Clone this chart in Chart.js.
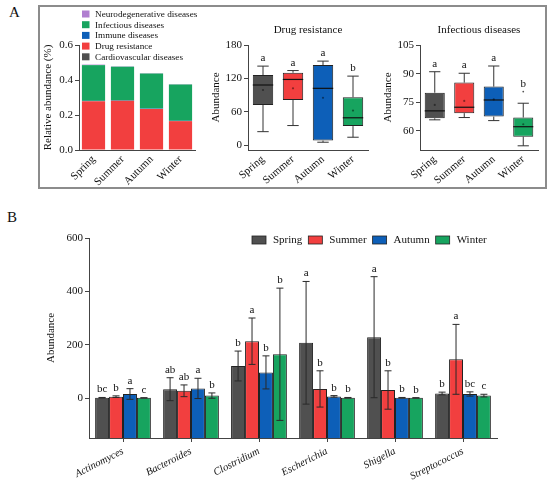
<!DOCTYPE html>
<html>
<head>
<meta charset="utf-8">
<script src="https://cdn.jsdelivr.net/npm/chart.js@4.4.0/dist/chart.umd.min.js"></script>
<style>
    body { margin: 0; background: #fff; }
    #wrap { position: relative; width: 550px; height: 493px; background: #fff; overflow: hidden; font-family: 'Liberation Serif', 'DejaVu Serif', serif; }
    #wrap canvas { position: absolute; }
    .frame { position: absolute; left: 38px; top: 5px; width: 505px; height: 180px; border: 2px solid #8c8c8c; }
    .lab { position: absolute; font-size: 15px; color: #111; }
</style>
</head>
<body>
<div id="wrap">
    <div class="frame"></div>
    <div class="lab" style="left:9px; top:4px;">A</div>
    <div class="lab" style="left:7px; top:209px;">B</div>
    <canvas id="relChart" width="170" height="180" style="left:40px; top:6px;"></canvas>
    <canvas id="drugChart" width="172" height="180" style="left:200px; top:6px;"></canvas>
    <canvas id="infChart" width="172" height="180" style="left:372px; top:6px;"></canvas>
    <canvas id="genusChart" width="550" height="268" style="left:0px; top:225px;"></canvas>
</div>

<script>
// ---- shared ----
const seasons = ["Spring", "Summer", "Autumn", "Winter"];
const seasonColors = ["#505050", "#f23f3f", "#0d5fb8", "#17a45f"];

// ---- A: relative abundance (%) stacked, bottom to top ----
const cardioAbund = [0.003, 0.003, 0.003, 0.003];
const drugAbund = [0.276, 0.278, 0.232, 0.162];
const immuneAbund = [0.002, 0.002, 0.002, 0.002];
const infectAbund = [0.204, 0.193, 0.200, 0.208];
const neuroAbund = [0.003, 0.002, 0.002, 0.002];
const relTicks = [0, 0.2, 0.4, 0.6];

// ---- A: Drug resistance boxes [min, q1, median, q3, max] ----
const drugMin = [24, 35, 5, 14];
const drugQ1 = [72, 81, 8, 34];
const drugMedian = [108, 118, 102, 49];
const drugQ3 = [126, 130, 144, 86];
const drugMax = [142, 134, 151, 124];
const drugMean = [99, 102, 85, 62];
const drugLetters = ["a", "a", "a", "b"];
const drugTicks = [0, 60, 120, 180];

// ---- A: Infectious diseases boxes ----
const infMin = [65.8, 67, 65.4, 52.2];
const infQ1 = [66.6, 69.3, 67.5, 57];
const infMedian = [70.5, 72.4, 76.2, 62.2];
const infQ3 = [80, 85.3, 83.2, 67];
const infMax = [91, 90.2, 94, 74.5];
const infMean = [73.6, 75.7, 76.5, 63.5];
const infOutliers = [null, null, null, 80.6];
const infLetters = ["a", "a", "a", "b"];
const infTicks = [60, 75, 90, 105];

// ---- B: genus abundance, mean and sd ----
const genera = ["Actinomyces", "Bacteroides", "Clostridium", "Escherichia", "Shigella", "Streptococcus"];
const springMean = [1, 33, 120, 207, 228, 17];
const springSd = [1, 43, 56, 230, 227, 5];
const summerMean = [5, 27, 213, 34, 30, 145];
const summerSd = [3, 22, 87, 68, 72, 131];
const autumnMean = [15, 36, 96, 6, 1, 15];
const autumnSd = [20, 38, 62, 3, 1, 8];
const winterMean = [0.5, 9, 164, 1, 0.5, 9];
const winterSd = [0.3, 10, 248, 1, 0.5, 5];
const springLetters = ["bc", "ab", "b", "a", "a", "b"];
const summerLetters = ["b", "ab", "a", "b", "b", "a"];
const autumnLetters = ["a", "a", "b", "b", "b", "bc"];
const winterLetters = ["c", "b", "b", "b", "b", "c"];
const genusTicks = [0, 200, 400, 600];
const genusMin = -150;

const serif = "'Liberation Serif', 'DejaVu Serif', serif";
Chart.defaults.font.family = serif;
Chart.defaults.color = "#111";
const axisColor = "#444";

const baseOptions = {
    responsive: false,
    animation: false,
    events: [],
    plugins: { legend: { display: false }, tooltip: { enabled: false } },
};

// draw the small legend of panel A (top item = top of stack)
const relLegend = {
    id: "relLegend",
    afterDraw(chart) {
        const ctx = chart.ctx;
        const items = chart.data.datasets.slice().reverse();
        ctx.save();
        ctx.font = "9.2px " + serif;
        ctx.textBaseline = "middle";
        items.forEach((ds, i) => {
            const y = 8 + i * 10.7;
            ctx.fillStyle = ds.backgroundColor;
            ctx.fillRect(42, y - 3.5, 7.5, 7);
            ctx.fillStyle = "#111";
            ctx.fillText(ds.label, 55, y + 0.5);
        });
        ctx.restore();
    },
};

// whiskers, median, mean, outliers, letters and title for the box panels
const boxExtras = {
    id: "boxExtras",
    afterDatasetsDraw(chart, args, opts) {
        const ctx = chart.ctx;
        const y = chart.scales.y;
        const meta = chart.getDatasetMeta(0);
        ctx.save();
        meta.data.forEach((bar, i) => {
            const cx = bar.x, half = bar.width / 2, cap = bar.width * 0.28;
            const pMin = y.getPixelForValue(opts.min[i]);
            const pQ1 = y.getPixelForValue(opts.q1[i]);
            const pQ3 = y.getPixelForValue(opts.q3[i]);
            const pMax = y.getPixelForValue(opts.max[i]);
            const pMed = y.getPixelForValue(opts.median[i]);
            ctx.strokeStyle = "#333";
            ctx.lineWidth = 1;
            ctx.beginPath();
            ctx.moveTo(cx, pQ1); ctx.lineTo(cx, pMin);
            ctx.moveTo(cx - cap, pMin); ctx.lineTo(cx + cap, pMin);
            ctx.moveTo(cx, pQ3); ctx.lineTo(cx, pMax);
            ctx.moveTo(cx - cap, pMax); ctx.lineTo(cx + cap, pMax);
            ctx.stroke();
            ctx.strokeStyle = "#111";
            ctx.lineWidth = 1.2;
            ctx.beginPath();
            ctx.moveTo(cx - half, pMed); ctx.lineTo(cx + half, pMed);
            ctx.stroke();
            ctx.fillStyle = "rgba(0,0,0,0.45)";
            ctx.beginPath();
            ctx.arc(cx, y.getPixelForValue(opts.mean[i]), 1.1, 0, Math.PI * 2);
            ctx.fill();
            let top = pMax;
            if (opts.outliers && opts.outliers[i] != null) {
                const pOut = y.getPixelForValue(opts.outliers[i]);
                ctx.fillStyle = "#555";
                ctx.beginPath();
                ctx.arc(cx, pOut, 0.9, 0, Math.PI * 2);
                ctx.fill();
                top = pOut;
            }
            ctx.fillStyle = "#111";
            ctx.font = "11px " + serif;
            ctx.textAlign = "center";
            ctx.textBaseline = "alphabetic";
            ctx.fillText(opts.letters[i], cx, top - 5);
        });
        const area = chart.chartArea;
        ctx.font = "11px " + serif;
        ctx.textAlign = "center";
        ctx.textBaseline = "middle";
        ctx.fillStyle = "#111";
        ctx.fillText(opts.title, (area.left + area.right) / 2, 24);
        ctx.restore();
    },
};

// error bars and letters for panel B, plus its legend
const genusExtras = {
    id: "genusExtras",
    afterDatasetsDraw(chart) {
        const ctx = chart.ctx;
        const y = chart.scales.y;
        ctx.save();
        chart.data.datasets.forEach((ds, di) => {
            const meta = chart.getDatasetMeta(di);
            meta.data.forEach((bar, i) => {
                const m = ds.data[i], e = ds.sd[i];
                const top = y.getPixelForValue(m + e);
                const bot = y.getPixelForValue(m - e);
                ctx.strokeStyle = "#2a2a2a";
                ctx.lineWidth = 1;
                ctx.beginPath();
                ctx.moveTo(bar.x, top); ctx.lineTo(bar.x, bot);
                ctx.moveTo(bar.x - 3.5, top); ctx.lineTo(bar.x + 3.5, top);
                ctx.moveTo(bar.x - 3.5, bot); ctx.lineTo(bar.x + 3.5, bot);
                ctx.stroke();
                ctx.fillStyle = "#111";
                ctx.font = "11px " + serif;
                ctx.textAlign = "center";
                ctx.textBaseline = "alphabetic";
                ctx.fillText(ds.letters[i], bar.x, Math.min(top, y.getPixelForValue(m)) - 5);
            });
        });
        // legend
        let x = 252;
        const ly = 15;
        ctx.font = "11px " + serif;
        ctx.textAlign = "left";
        ctx.textBaseline = "middle";
        chart.data.datasets.forEach(ds => {
            ctx.fillStyle = ds.backgroundColor;
            ctx.fillRect(x, ly - 4, 14, 8);
            ctx.strokeStyle = "#222";
            ctx.lineWidth = 0.8;
            ctx.strokeRect(x, ly - 4, 14, 8);
            x += 21;
            ctx.fillStyle = "#111";
            ctx.fillText(ds.label, x, ly + 0.5);
            x += ctx.measureText(ds.label).width + 6;
        });
        ctx.restore();
    },
};

function yScale(min, max, tickList, title, width, titlePad, fmt, size) {
    return {
        min: min,
        max: max,
        afterBuildTicks: s => { s.ticks = tickList.map(v => ({ value: v })); },
        grid: { drawOnChartArea: false, tickLength: 4, color: axisColor },
        border: { color: axisColor, width: 1 },
        ticks: { font: { size: size }, padding: 2, callback: fmt || (v => v) },
        title: { display: true, text: title, font: { size: size }, padding: { top: titlePad, bottom: 0 } },
        afterFit: s => { s.width = width; },
    };
}

function xScale(height, rotation, font, stacked) {
    return {
        stacked: !!stacked,
        grid: { drawOnChartArea: false, drawTicks: false, color: axisColor },
        border: { color: axisColor, width: 1 },
        ticks: { font: font, minRotation: rotation, maxRotation: rotation, autoSkip: false, padding: 3 },
        afterFit: s => { s.height = height; },
    };
}

// ---- A1: stacked relative abundance ----
new Chart(document.getElementById("relChart"), {
    type: "bar",
    data: {
        labels: seasons,
        datasets: [
            { label: "Cardiovascular diseases", data: cardioAbund, backgroundColor: "#505050" },
            { label: "Drug resistance", data: drugAbund, backgroundColor: "#f23f3f" },
            { label: "Immune diseases", data: immuneAbund, backgroundColor: "#0d5fb8" },
            { label: "Infectious diseases", data: infectAbund, backgroundColor: "#17a45f" },
            { label: "Neurodegenerative diseases", data: neuroAbund, backgroundColor: "#b07ed0" },
        ],
    },
    options: {
        ...baseOptions,
        layout: { padding: { top: 39, right: 15, left: 0, bottom: 0 } },
        datasets: { bar: { barPercentage: 0.8, categoryPercentage: 1, borderWidth: 0 } },
        scales: {
            x: xScale(36, 45, { size: 11 }, true),
            y: { ...yScale(0, 0.6, relTicks, "Relative abundance (%)", 39, 2, v => v.toFixed(1), 11), stacked: true },
        },
    },
    plugins: [relLegend],
});

// ---- A2 / A3: box plots (box = floating bar q1..q3) ----
function boxChart(id, q1, q3, yMin, yMax, tickList, extras, padRight) {
    new Chart(document.getElementById(id), {
        type: "bar",
        data: {
            labels: seasons,
            datasets: [{
                data: q1.map((v, i) => [v, q3[i]]),
                backgroundColor: seasonColors,
                borderColor: "#222",
                borderWidth: 1,
                borderSkipped: false,
                barPercentage: 0.68,
                categoryPercentage: 1,
            }],
        },
        options: {
            ...baseOptions,
            layout: { padding: { top: 39, right: padRight, left: 0, bottom: 0 } },
            scales: {
                x: xScale(36, 40, { size: 11 }),
                y: yScale(yMin, yMax, tickList, "Abundance", 48, 10, null, 11),
            },
            plugins: { ...baseOptions.plugins, boxExtras: extras },
        },
        plugins: [boxExtras],
    });
}

boxChart("drugChart", drugQ1, drugQ3, -9, 180, drugTicks, {
    min: drugMin, q1: drugQ1, median: drugMedian, q3: drugQ3, max: drugMax,
    mean: drugMean, letters: drugLetters, title: "Drug resistance",
}, 4);

boxChart("infChart", infQ1, infQ3, 50, 105, infTicks, {
    min: infMin, q1: infQ1, median: infMedian, q3: infQ3, max: infMax,
    mean: infMean, outliers: infOutliers, letters: infLetters, title: "Infectious diseases",
}, 6);

// ---- B: grouped bars with sd, bars rise from the bottom of the axis ----
new Chart(document.getElementById("genusChart"), {
    type: "bar",
    data: {
        labels: genera,
        datasets: [
            { label: "Spring", data: springMean, sd: springSd, letters: springLetters, backgroundColor: seasonColors[0] },
            { label: "Summer", data: summerMean, sd: summerSd, letters: summerLetters, backgroundColor: seasonColors[1] },
            { label: "Autumn", data: autumnMean, sd: autumnSd, letters: autumnLetters, backgroundColor: seasonColors[2] },
            { label: "Winter", data: winterMean, sd: winterSd, letters: winterLetters, backgroundColor: seasonColors[3] },
        ],
    },
    options: {
        ...baseOptions,
        layout: { padding: { top: 13, right: 53, left: 0, bottom: 0 } },
        datasets: { bar: { base: genusMin, barPercentage: 1, categoryPercentage: 0.82, borderColor: "#222", borderWidth: 1 } },
        scales: {
            x: {
                grid: { drawOnChartArea: false, tickLength: 4, offset: false, color: axisColor },
                border: { color: axisColor, width: 1 },
                ticks: { font: { size: 10.5, style: "italic" }, minRotation: 27, maxRotation: 27, autoSkip: false, padding: 3 },
                afterFit: s => { s.height = 55; },
            },
            y: yScale(genusMin, 600, genusTicks, "Abundance", 89, 45, null, 11),
        },
    },
    plugins: [genusExtras],
});
</script>
</body>
</html>
